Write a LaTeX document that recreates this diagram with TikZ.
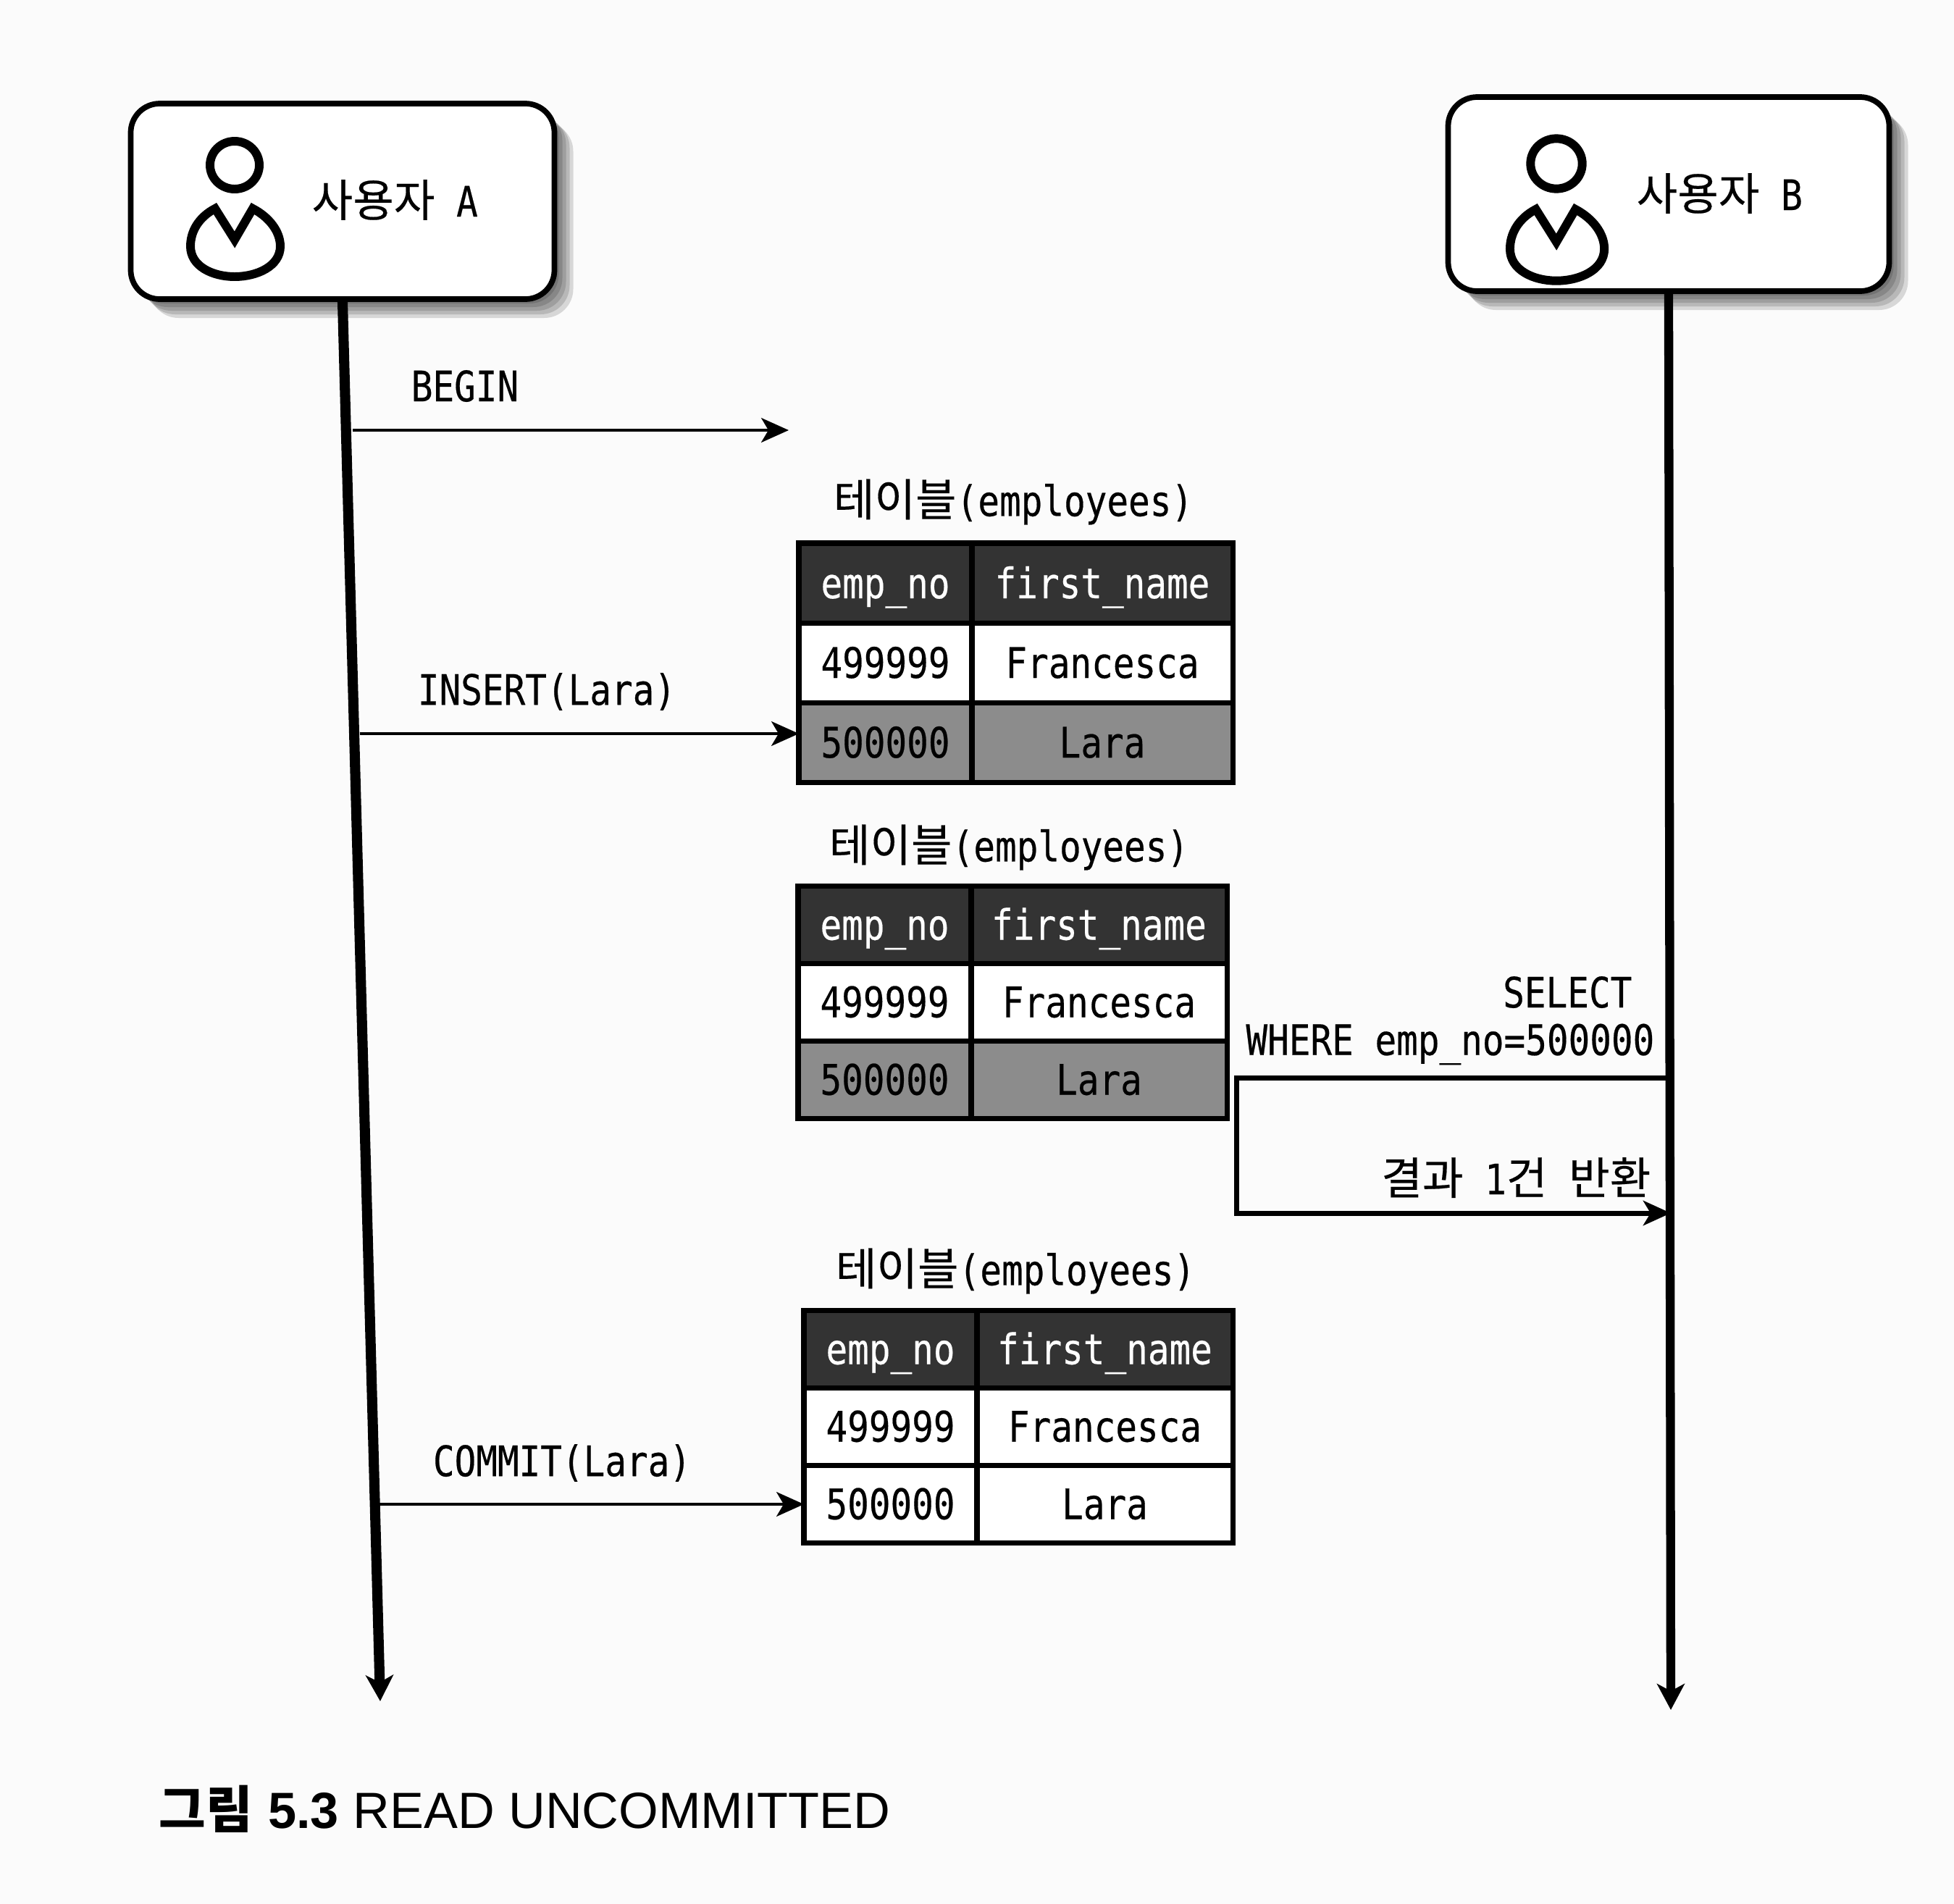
\documentclass[tikz,border=0pt]{standalone}
\usepackage{fontspec}
\usetikzlibrary{arrows.meta,positioning,shadows}
\newfontfamily\codefont[FakeStretch=0.85,FakeBold=0.35]{DejaVu Sans Mono}
\newfontfamily\korfont[FakeBold=0.3]{Noto Sans CJK KR}
\newfontfamily\capkor{Noto Sans CJK KR}
\newfontfamily\capfont{Liberation Sans}
\newcommand{\labelfont}{\fontsize{16.5}{20}\selectfont\codefont}
\newcommand{\kor}[1]{{\fontsize{17.5}{20}\selectfont\korfont #1}}
\definecolor{paper}{gray}{0.985}
\definecolor{headfill}{gray}{0.2}
\definecolor{newfill}{gray}{0.55}

\begin{document}
\begin{tikzpicture}[>=Stealth]
        \tikzset{
            softshadow/.style={general shadow={shadow xshift=#1, shadow yshift=-#1, fill=black, opacity=0.14, rounded corners=0.4cm}},
            userbox/.style={draw, fill=white, rectangle, rounded corners=0.4cm, line width=2.2pt,
                softshadow=0.26cm, softshadow=0.21cm, softshadow=0.16cm, softshadow=0.11cm, softshadow=0.06cm},
            lbl/.style={font=\labelfont, inner sep=0pt},
            cell/.style={draw, line width=2pt, rectangle, fill=white, minimum height=1.07cm, outer sep=0pt, inner sep=0pt, text height=0.42cm, text depth=0pt, font=\labelfont},
            headcell/.style={cell, fill=headfill, text=white},
            newcell/.style={cell, fill=newfill},
            cola/.style={minimum width=2.39cm},
            colb/.style={minimum width=3.53cm},
            lifeline/.style={draw, line width=4pt, -{Stealth[length=0.36cm, width=0.38cm, inset=0.1cm]}},
            msg/.style={draw, line width=0.9pt, -{Stealth[length=0.38cm, width=0.34cm, inset=0.1cm]}},
            reply/.style={draw, line width=2pt, -{Stealth[length=0.38cm, width=0.34cm, inset=0.1cm]}},
            usericon/.pic={
                \draw[line width=3.4pt] (0,0) ellipse (0.34 and 0.33);
                \draw[line width=3.4pt, line join=miter, miter limit=2.5] (-0.27,-0.6) .. controls (-0.5,-0.72) and (-0.61,-0.92) .. (-0.61,-1.12)
                    .. controls (-0.61,-1.4) and (-0.3,-1.54) .. (0,-1.54)
                    .. controls (0.3,-1.54) and (0.63,-1.4) .. (0.63,-1.12)
                    .. controls (0.63,-0.92) and (0.48,-0.72) .. (0.25,-0.6)
                    -- (0,-1.03) -- cycle;
            }
        }
        \fill[paper] (0,0) rectangle (26.98,-26.29);

        % Users
        \node[userbox, minimum width=5.85cm, minimum height=2.7cm] (userA) at (4.73,-2.78) {};
        \node[userbox, minimum width=6.09cm, minimum height=2.68cm] (userB) at (23.04,-2.68) {};
        \pic at (3.24,-2.28) {usericon};
        \pic[scale=1.05] at (21.49,-2.26) {usericon};
        \node[lbl, anchor=west] (nameA) at (4.3,-2.76) {\kor{사용자} A};
        \node[lbl, anchor=west] (nameB) at (22.59,-2.67) {\kor{사용자} B};

        % Life lines
        \coordinate (endA) at (5.25,-23.49);
        \coordinate (endB) at (23.07,-23.61);
        \path[lifeline] (userA.south) -- (endA);
        \path[lifeline, line width=3.5pt] (userB.south) -- (endB);

        % Table 1
        \node[lbl] (title1) at (13.99,-6.93) {\kor{테이블}(employees)};
        \begin{scope}[cell/.append style={minimum height=1.1cm}, colb/.append style={minimum width=3.6cm}]
        \node[headcell, cola, anchor=north west] (t1ha) at (11.03,-7.5) {emp\_no};
        \node[headcell, colb, right=0pt of t1ha] (t1hb) {first\_name};
        \node[cell, cola, below=0pt of t1ha] (t1ra) {499999};
        \node[cell, colb, below=0pt of t1hb] (t1rb) {Francesca};
        \node[newcell, cola, below=0pt of t1ra] (t1na) {500000};
        \node[newcell, colb, below=0pt of t1rb] (t1nb) {Lara};
        \end{scope}

        % Table 2
        \node[lbl] (title2) at (13.93,-11.7) {\kor{테이블}(employees)};
        \node[headcell, cola, anchor=north west] (t2ha) at (11.02,-12.23) {emp\_no};
        \node[headcell, colb, right=0pt of t2ha] (t2hb) {first\_name};
        \node[cell, cola, below=0pt of t2ha] (t2ra) {499999};
        \node[cell, colb, below=0pt of t2hb] (t2rb) {Francesca};
        \node[newcell, cola, below=0pt of t2ra] (t2na) {500000};
        \node[newcell, colb, below=0pt of t2rb] (t2nb) {Lara};

        % Table 3
        \node[lbl] (title3) at (14.02,-17.55) {\kor{테이블}(employees)};
        \node[headcell, cola, anchor=north west] (t3ha) at (11.1,-18.09) {emp\_no};
        \node[headcell, colb, right=0pt of t3ha] (t3hb) {first\_name};
        \node[cell, cola, below=0pt of t3ha] (t3ra) {499999};
        \node[cell, colb, below=0pt of t3hb] (t3rb) {Francesca};
        \node[cell, cola, below=0pt of t3ra] (t3na) {500000};
        \node[cell, colb, below=0pt of t3rb] (t3nb) {Lara};

        % Messages of user A
        \coordinate (beginA) at (4.87,-5.94);
        \coordinate (beginEnd) at (10.89,-5.94);
        \coordinate (insertA) at (4.97,-10.13);
        \coordinate (commitA) at (5.23,-20.77);
        \path[msg] (beginA) -- (beginEnd);
        \path[msg] (insertA) -- (insertA -| t1na.west);
        \path[msg] (commitA) -- (commitA -| t3na.west);
        \node[lbl] (beginLbl) at (6.42,-5.33) {BEGIN};
        \node[lbl] (insertLbl) at (7.55,-9.55) {INSERT(Lara)};
        \node[lbl] (commitLbl) at (7.76,-20.2) {COMMIT(Lara)};

        % Select of user B
        \coordinate (selOut) at (23.04,-14.88);
        \coordinate (selTop) at (17.07,-14.88);
        \coordinate (selBot) at (17.07,-16.75);
        \coordinate (selIn) at (23.07,-16.75);
        \path[reply] (selOut) -- (selTop) -- (selBot) -- (selIn);
        \node[lbl, anchor=east] (selLbl) at (22.54,-13.7) {SELECT};
        \node[lbl, anchor=east] (whereLbl) at (22.85,-14.42) {WHERE emp\_no=500000};
        \node[lbl, anchor=east] (resultLbl) at (22.8,-16.26) {\kor{결과} 1\kor{건} \kor{반환}};

        % Caption
        \node[anchor=west, inner sep=0pt] (caption) at (2.19,-24.98) {\fontsize{20}{24}\selectfont{\capkor\bfseries 그림} \capfont\textbf{5.3} READ UNCOMMITTED};
\end{tikzpicture}
\end{document}
